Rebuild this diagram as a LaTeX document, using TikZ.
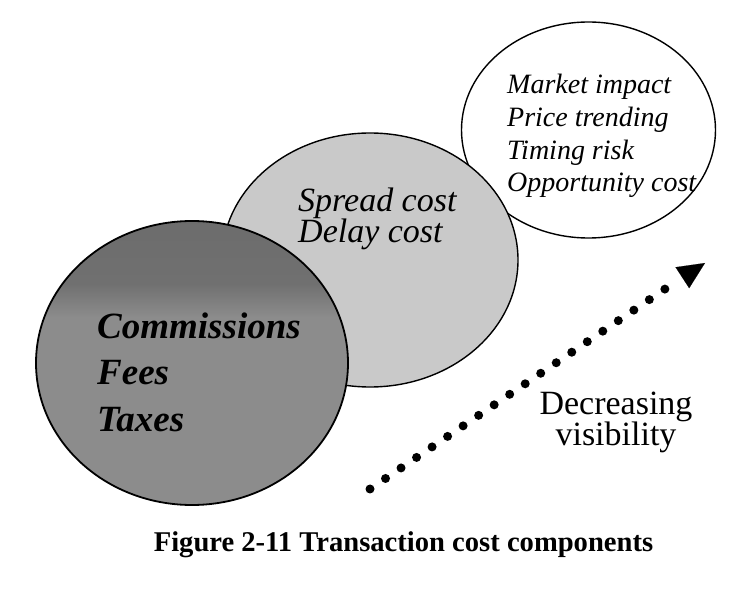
\documentclass[tikz,border=0pt]{standalone}
\usepackage{fontspec}
\setmainfont{Liberation Serif}
\usetikzlibrary{shapes.geometric,arrows.meta}
\definecolor{darkmid}{RGB}{140,140,140}
\definecolor{darktop}{RGB}{100,100,100}
\definecolor{midfill}{RGB}{201,201,201}
\pgfdeclareverticalshading{darkball}{100bp}{color(0bp)=(darkmid); color(58bp)=(darkmid); color(64bp)=(darktop!70!darkmid); color(100bp)=(darktop)}
\tikzset{
  ball/.style={ellipse, draw=black, inner sep=0pt, line width=1.4pt},
  txt/.style={inner sep=0pt, align=left, anchor=west},
  dotline/.style={line width=9pt, line cap=round, dash pattern=on 0pt off 18.75pt},
  tipline/.style={line width=0.1pt, shorten <=20pt, -{Triangle[length=27pt,width=25pt]}}
}
\begin{document}
\begin{tikzpicture}[x=1pt,y=-1pt]
\useasboundingbox[fill=white] (0,0) rectangle (748,612);
\node[ball, fill=white, minimum width=254pt, minimum height=216pt] (white) at (588.5,130) {};
\node[ball, fill=midfill, minimum width=296pt, minimum height=254pt] (mid) at (370,260) {};
\node[ball, shading=darkball, minimum width=312pt, minimum height=284pt, line width=1.8pt] (dark) at (192,363) {};
\node[txt, font=\fontsize{37}{46.5}\selectfont\bfseries\itshape] (comm) at (97,372) {Commissions\\Fees\\Taxes};
\node[txt, font=\fontsize{34}{31}\selectfont\itshape] (spread) at (298,219) {Spread cost\\Delay cost};
\node[txt, font=\fontsize{28}{32.7}\selectfont\itshape] (market) at (507,136) {Market impact\\Price trending\\Timing risk\\Opportunity cost};
\node[inner sep=0pt, align=center, font=\fontsize{34}{31}\selectfont] (vis) at (616,422) {Decreasing\\visibility};
\node[inner sep=0pt, anchor=base, font=\fontsize{28.6}{30}\selectfont\bfseries] (cap) at (403.5,552) {Figure 2-11 Transaction cost components};
\coordinate (s) at (370,489);
\coordinate (e) at (665,289);
\coordinate (t) at (705,263);
\draw[dotline] (s) -- (e);
\draw[tipline] (e) -- (t);
\end{tikzpicture}
\end{document}
